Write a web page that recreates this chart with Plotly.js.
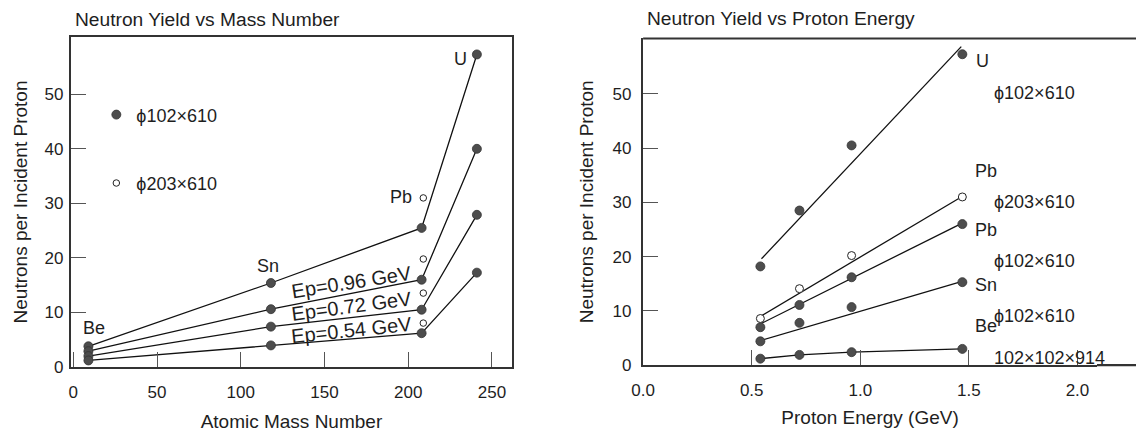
<!DOCTYPE html>
<html>
<head>
<meta charset="utf-8">
<script src="https://cdn.plot.ly/plotly-3.0.1.min.js"></script>
<style>html,body{margin:0;padding:0;background:#fff;overflow:hidden}#chart{width:1136px;height:432px}</style>
</head>
<body>
<div id="chart"></div>
<script>
// ---------- Left panel: Neutron yield vs mass number ----------
const massNumbers = [9, 118, 208, 241];           // Be, Sn, Pb, U
const yieldTop   = [3.8, 15.4, 25.5, 57.3];       // top curve (highest energy)
const yield096   = [2.9, 10.6, 16.0, 40.0];       // Ep = 0.96 GeV
const yield072   = [2.0, 7.4, 10.5, 27.9];        // Ep = 0.72 GeV
const yield054   = [1.2, 3.96, 6.2, 17.3];        // Ep = 0.54 GeV
const pbLargeMass = [209, 209, 209, 209];
const pbLargeYield = [31.0, 19.8, 13.55, 8.05];   // phi203x610 Pb

// ---------- Right panel: Neutron yield vs proton energy ----------
const energies = [0.54, 0.72, 0.96, 1.47];
const uYield    = [18.2, 28.5, 40.5, 57.3];
const pbOpen    = [8.6, 14.1, 20.2, 31.0];
const pbFilled  = [7.0, 11.1, 16.2, 26.0];
const snYield   = [4.4, 7.8, 10.7, 15.3];
const beYield   = [1.2, 1.9, 2.4, 3.0];
// fitted straight lines (end points)
const fitE      = [0.545, 1.465];
const uFit      = [19.6, 58.7];
const pbOpenFit = [9.1, 31.0];
const pbFillFit = [7.7, 26.1];
const snFit     = [4.6, 15.4];

const leftXTicks = [0, 50, 100, 150, 200, 250];
const yTicks = [0, 10, 20, 30, 40, 50];
const rightXTicks = [0, 0.5, 1.0, 1.5, 2.0];

const FONT = 'Liberation Sans, Arial, Helvetica, sans-serif';
const INK = '#1e1e1e';
const FILL = '#4d4d4d';

const lineStyle = {color: '#111', width: 1.3};
const filledMarker = {size: 9, color: FILL, line: {color: '#333', width: 0.8}};

const traces = [];
[yieldTop, yield096, yield072, yield054].forEach(ys => {
  traces.push({x: massNumbers, y: ys, xaxis: 'x', yaxis: 'y', mode: 'lines',
               line: lineStyle, showlegend: false, hoverinfo: 'skip'});
});
traces.push({
  x: [].concat(massNumbers, massNumbers, massNumbers, massNumbers),
  y: [].concat(yieldTop, yield096, yield072, yield054),
  xaxis: 'x', yaxis: 'y', mode: 'markers', marker: filledMarker,
  name: '\u03D5102\u00D7610', legendgroup: 'a', showlegend: true
});
traces.push({
  x: pbLargeMass, y: pbLargeYield, xaxis: 'x', yaxis: 'y', mode: 'markers',
  marker: {size: 6.5, color: '#fff', line: {color: '#222', width: 1}},
  name: '\u03D5203\u00D7610', legendgroup: 'b', showlegend: true
});

// right panel
[uFit, pbOpenFit, pbFillFit, snFit].forEach(ys => {
  traces.push({x: fitE, y: ys, xaxis: 'x2', yaxis: 'y2', mode: 'lines',
               line: lineStyle, showlegend: false});
});
traces.push({x: energies, y: beYield, xaxis: 'x2', yaxis: 'y2', mode: 'lines',
             line: lineStyle, showlegend: false});
[uYield, pbFilled, snYield, beYield].forEach(ys => {
  traces.push({x: energies, y: ys, xaxis: 'x2', yaxis: 'y2', mode: 'markers',
               marker: filledMarker, showlegend: false});
});
traces.push({x: energies, y: pbOpen, xaxis: 'x2', yaxis: 'y2', mode: 'markers',
             marker: {size: 8, color: '#fff', line: {color: '#222', width: 1}},
             showlegend: false});

// ---------- labels ----------
const leftLabels = [
  {t: 'U',  x: 236.5, y: 56.4, a: 'right'},
  {t: 'Pb', x: 203.5, y: 31.2, a: 'right'},
  {t: 'Sn', x: 116.4, y: 18.6, a: 'center'},
  {t: 'Be', x: 12.1,  y: 7.1,  a: 'center'}
];
const epLabels = [
  {t: 'Ep=0.96 GeV', x: 166.4, y: 15.6, ang: -9},
  {t: 'Ep=0.72 GeV', x: 166.4, y: 11.2, ang: -7.5},
  {t: 'Ep=0.54 GeV', x: 166.4, y: 6.7,  ang: -6}
];
const rightLabels = [
  {t: 'U', x: 1.523, y: 56.1},
  {t: '\u03D5102\u00D7610', x: 1.607, y: 50.1},
  {t: 'Pb', x: 1.520, y: 35.8},
  {t: '\u03D5203\u00D7610', x: 1.607, y: 30.0},
  {t: 'Pb', x: 1.520, y: 24.95},
  {t: '\u03D5102\u00D7610', x: 1.607, y: 19.25},
  {t: 'Sn', x: 1.520, y: 14.8},
  {t: '\u03D5102\u00D7610', x: 1.607, y: 9.1},
  {t: 'Be', x: 1.520, y: 7.15},
  {t: '102\u00D7102\u00D7914', x: 1.607, y: 1.33}
];

const annotations = [];
leftLabels.forEach(l => annotations.push({text: l.t, x: l.x, y: l.y, xref: 'x', yref: 'y',
  xanchor: l.a, yanchor: 'middle', showarrow: false, font: {size: 18, family: FONT, color: INK}}));
epLabels.forEach(l => annotations.push({text: l.t, x: l.x, y: l.y, xref: 'x', yref: 'y',
  textangle: l.ang, showarrow: false, font: {size: 20, family: FONT, color: INK}}));
rightLabels.forEach(l => annotations.push({text: l.t, x: l.x, y: l.y, xref: 'x2', yref: 'y2',
  xanchor: 'left', yanchor: 'middle', showarrow: false, font: {size: 18, family: FONT, color: INK}}));
// panel titles
annotations.push({text: 'Neutron Yield vs Mass Number', xref: 'paper', yref: 'paper',
  x: 0.0022, y: 1.0, xanchor: 'left', yanchor: 'bottom', yshift: 5, showarrow: false,
  font: {size: 19.2, family: FONT, color: INK}});
annotations.push({text: 'Neutron Yield vs Proton Energy', xref: 'paper', yref: 'paper',
  x: 0.5595, y: 1.0, xanchor: 'left', yanchor: 'bottom', yshift: 6, showarrow: false,
  font: {size: 19.2, family: FONT, color: INK}});

const axisCommon = {
  showgrid: false, zeroline: false, ticks: 'inside', ticklen: 15, tickwidth: 1,
  tickcolor: '#555', showline: true, linecolor: '#333', linewidth: 2.2,
  tickfont: {size: 17, family: FONT, color: INK}
};
const titleFont = {size: 19, family: FONT, color: INK};

const layout = {
  width: 1136, height: 432,
  margin: {l: 70.7, r: 39, t: 37, b: 64.7},
  paper_bgcolor: '#fff', plot_bgcolor: '#fff',
  font: {family: FONT, color: INK},
  xaxis: Object.assign({}, axisCommon, {domain: [0, 0.4297], range: [-1.4, 261.9],
    tickvals: leftXTicks, mirror: true, anchor: 'y', ticklabelstandoff: 8,
    title: {text: 'Atomic Mass Number', font: titleFont, standoff: 14}}),
  yaxis: Object.assign({}, axisCommon, {domain: [0, 1], range: [0, 60.5],
    tickvals: yTicks, mirror: true, anchor: 'x', ticklabelstandoff: 2,
    title: {text: 'Neutrons per Incident Proton', font: titleFont, standoff: 12}}),
  xaxis2: Object.assign({}, axisCommon, {domain: [0.5576, 1], range: [0, 2.09],
    tickvals: rightXTicks, tickformat: '.1f', anchor: 'y2', mirror: false, ticklabelstandoff: 8,
    title: {text: 'Proton Energy (GeV)', font: titleFont, standoff: 12}}),
  yaxis2: Object.assign({}, axisCommon, {domain: [0.0055, 0.9955], range: [0, 60.2],
    tickvals: yTicks, anchor: 'x2', mirror: false, ticklabelstandoff: 6,
    title: {text: 'Neutrons per Incident Proton', font: titleFont, standoff: 14}}),
  showlegend: true,
  legend: {x: 0.0247, y: 0.82, xanchor: 'left', yanchor: 'top', bgcolor: 'rgba(0,0,0,0)',
    traceorder: 'grouped', tracegroupgap: 42, font: {size: 18, family: FONT, color: INK}},
  annotations: annotations,
  shapes: [
    {type: 'line', xref: 'paper', yref: 'y2 domain', x0: 0.5576, x1: 1.04, y0: 1, y1: 1,
     line: {color: '#333', width: 2.2}},
    {type: 'line', xref: 'paper', yref: 'y2 domain', x0: 1, x1: 1.04, y0: 0, y1: 0,
     line: {color: '#333', width: 2.2}}
  ]
};

Plotly.newPlot('chart', traces, layout, {displayModeBar: false, staticPlot: true});
</script>
</body>
</html>
